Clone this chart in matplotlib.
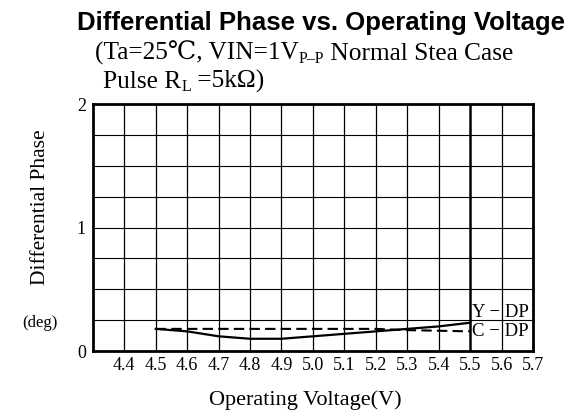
import matplotlib
matplotlib.use("Agg")
import matplotlib.pyplot as plt

SERIF = ['Liberation Serif', 'DejaVu Serif']

# data
voltage = [4.5, 4.6, 4.7, 4.8, 4.9, 5.0, 5.1, 5.2, 5.3, 5.4, 5.5]
y_dp = [0.18, 0.16, 0.12, 0.10, 0.10, 0.12, 0.14, 0.16, 0.18, 0.20, 0.23]
c_dp = [0.18, 0.18, 0.18, 0.18, 0.18, 0.18, 0.18, 0.18, 0.17, 0.165, 0.16]

x_ticks = [4.4, 4.5, 4.6, 4.7, 4.8, 4.9, 5.0, 5.1, 5.2, 5.3, 5.4, 5.5, 5.6, 5.7]
y_ticks = [0, 1, 2]

fig = plt.figure(figsize=(5.8, 4.18), dpi=100)
ax = fig.add_axes([0.160, 0.160, 0.759, 0.591])

ax.set_xlim(4.3, 5.7)
ax.set_ylim(0, 2)

# grid: every 0.1 V and every 0.25 deg
for xv in x_ticks[:-1]:
    lw = 1.8 if xv == 5.5 else 0.9
    ax.axvline(xv, color='black', lw=lw, zorder=1)
for k in range(1, 8):
    ax.axhline(k * 0.25, color='black', lw=0.8, zorder=1)

ax.plot(voltage, y_dp, color='black', lw=1.6, zorder=3)
ax.plot(voltage, c_dp, color='black', lw=1.5, ls=(0, (5, 2.5)), zorder=3)

ax.text(5.505, 0.31, "Y − DP", family=SERIF, fontsize=13.5, va='center', ha='left')
ax.text(5.505, 0.155, "C − DP", family=SERIF, fontsize=13.5, va='center', ha='left')

ax.set_xticks(x_ticks)
ax.set_xticklabels([f"{v:.1f}" for v in x_ticks], family=SERIF, fontsize=13)
ax.set_yticks(y_ticks)
ax.set_yticklabels([str(v) for v in y_ticks], family=SERIF, fontsize=13)
ax.tick_params(length=0, pad=5)
ax.tick_params(axis='x', pad=4)

for sp in ax.spines.values():
    sp.set_linewidth(2.0)

fig.text(0.526, 0.043, "Operating Voltage(V)", family=SERIF, fontsize=16,
         ha='center', va='center')
fig.text(0.069, 0.505, "Differential Phase", family=SERIF, fontsize=15.5,
         rotation=90, ha='center', va='center')
fig.text(0.069, 0.228, "(deg)", family=SERIF, fontsize=12, ha='center', va='center')

fig.text(0.553, 0.945, "Differential Phase vs. Operating Voltage",
         family='Liberation Sans', weight='bold', fontsize=18.5, ha='center', va='center')

# subtitle with small subscripts, pieced together left to right
def put_line(parts, x0, y0):
    renderer = fig.canvas.get_renderer()
    x = x0
    for s, small in parts:
        t = fig.text(x, y0 - (0.008 if small else 0), s, family=SERIF,
                     fontsize=11.5 if small else 18.3, ha='left', va='baseline')
        bb = t.get_window_extent(renderer)
        x = x + bb.width / fig.bbox.width

put_line([("(Ta=25℃, VIN=1V", False), ("P–P", True), (" Normal Stea Case", False)],
         0.163, 0.857)
put_line([("Pulse R", False), ("L", True), (" =5kΩ)", False)], 0.178, 0.79)

fig.savefig("out.png", dpi=100)
